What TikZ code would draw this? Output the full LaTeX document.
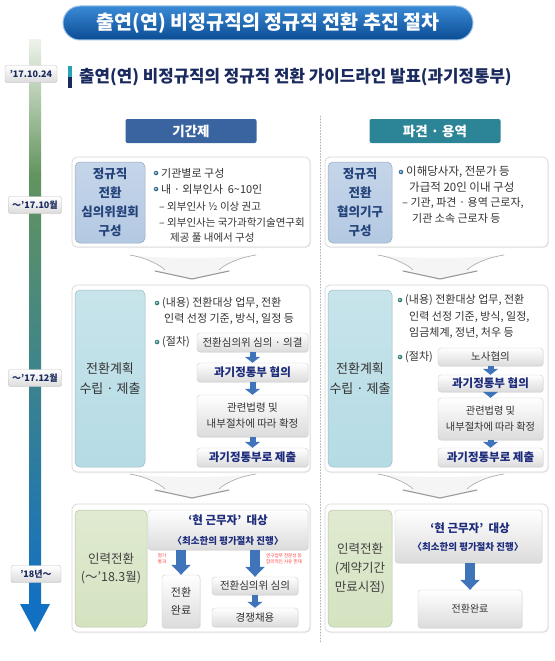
\documentclass[tikz,border=0pt]{standalone}
\usepackage{fontspec}
\setmainfont{Noto Sans CJK KR}
\usepackage{tikz}
\usetikzlibrary{arrows.meta,shadows}

\definecolor{titletop}{HTML}{3A8AD6}
\definecolor{titlebot}{HTML}{0A4C93}
\definecolor{titleedge}{HTML}{9CC2E8}
\definecolor{navy}{HTML}{1B2A5E}
\definecolor{markteal}{HTML}{27A3B3}
\definecolor{hdrblue}{HTML}{3A64A0}
\definecolor{hdrteal}{HTML}{2C8497}
\definecolor{lblblue}{HTML}{B3C8E2}
\definecolor{lblcyan}{HTML}{B5DBE4}
\definecolor{lblgreen}{HTML}{D5E3C1}
\definecolor{lbltext}{HTML}{24427A}
\definecolor{arrblue}{HTML}{3F74BA}
\definecolor{stepnavy}{HTML}{1E2C7C}
\definecolor{bulblue}{HTML}{3C8FC8}
\definecolor{bulteal}{HTML}{3BA89C}
\definecolor{lineA}{HTML}{EEF2EA}
\definecolor{lineB}{HTML}{62945E}
\definecolor{lineC}{HTML}{2A87A0}
\definecolor{lineD}{HTML}{1270C2}

\begin{document}
\begin{tikzpicture}[x=1pt, y=-1pt, line cap=round,
	every node/.style={inner sep=0pt, font=\fontsize{10}{12}\selectfont, text=black!80},
	titlepill/.style={minimum width=410pt, minimum height=34pt, rounded corners=17pt, top color=titletop, bottom color=titlebot, draw=titleedge, line width=1pt, text=white, font=\fontsize{19.5}{21}\selectfont\bfseries},
	datebox/.style={draw=black!25, rounded corners=2pt, top color=white, bottom color=black!14, minimum width=53pt, minimum height=17pt, text=navy, font=\fontsize{9}{10}\selectfont\bfseries},
	hdr/.style={rounded corners=2pt, minimum width=131pt, minimum height=24pt, text=white, font=\fontsize{13.5}{15}\selectfont\bfseries},
	outerbox/.style={draw=black!16, fill=white, rounded corners=5pt, line width=0.7pt, drop shadow={opacity=0.12, shadow xshift=1pt, shadow yshift=-1pt}},
	lblbox/.style={draw=#1!85!black, top color=#1!75, bottom color=#1, rounded corners=5pt, align=center, line width=0.5pt},
	stepbox/.style={draw=black!20, rounded corners=3pt, top color=white, bottom color=black!14, align=center, font=\fontsize{10.5}{13}\selectfont, drop shadow={opacity=0.12, shadow xshift=0.8pt, shadow yshift=-0.8pt}},
	stepbold/.style={text=stepnavy, font=\fontsize{11.5}{13}\selectfont\bfseries},
	bul/.style={circle, minimum size=4.5pt, ball color=#1},
	item/.style={anchor=west, font=\fontsize{11}{12}\selectfont},
	bluearr/.style={line cap=butt, draw=arrblue, line width=6pt, -{Triangle[width=15pt,length=6pt]}},
	bigarr/.style={line cap=butt, draw=arrblue, line width=10pt, -{Triangle[width=19pt,length=10pt]}},
	redtxt/.style={align=center, text=red!75, font=\fontsize{4.6}{5.6}\selectfont}]
	\useasboundingbox (0,0) rectangle (554,661);

	% title
	\node[titlepill] (title) at (268,23) {출연(연) 비정규직의 정규직 전환 추진 절차};

	% time line
	\shade[top color=lineA, bottom color=lineB] (29,40) rectangle (41,175);
	\shade[top color=lineB, middle color=lineC, bottom color=lineD] (29,175) rectangle (41,606);
	\fill[lineD] (20,604) -- (50,604) -- (35,632) -- cycle;

	% guideline
	\node[datebox, minimum width=52pt] (d0) at (31,74) {’17.10.24};
	\fill[markteal] (68,66) rectangle (72,77);
	\fill[navy] (68,77) rectangle (72,88);
	\node[anchor=west, text=navy, font=\fontsize{16.8}{18}\selectfont\bfseries] (guide) at (79,77) {출연(연) 비정규직의 정규직 전환 가이드라인 발표(과기정통부)};

	% column heads
	\node[hdr, fill=hdrblue] (hA) at (191,131) {기간제};
	\node[hdr, fill=hdrteal] (hB) at (435,131) {파견 · 용역};
	\draw[black!30, dotted, line width=0.9pt] (320,116) -- (320,642);

	% chevrons
	\foreach \cx/\ty in {192/255, 440/255, 192/474, 440/474} {
		\fill[black!4] (\cx-62,\ty) .. controls (\cx-45,\ty+3) and (\cx-32,\ty+10) .. (\cx-27,\ty+15)
			-- (\cx-37,\ty+16) -- (\cx,\ty+24) -- (\cx+37,\ty+16) -- (\cx+27,\ty+15)
			.. controls (\cx+32,\ty+10) and (\cx+45,\ty+3) .. (\cx+64,\ty)
			.. controls (\cx+30,\ty+4) and (\cx-30,\ty+4) .. cycle;
		\draw[black!35, line width=0.6pt] (\cx-62,\ty) .. controls (\cx-45,\ty+3) and (\cx-32,\ty+10) .. (\cx-27,\ty+15);
		\draw[black!35, line width=0.6pt] (\cx+64,\ty) .. controls (\cx+45,\ty+3) and (\cx+32,\ty+10) .. (\cx+27,\ty+15);
		\draw[black!40, line width=1.1pt] (\cx-37,\ty+16) -- (\cx,\ty+24) -- (\cx+37,\ty+16);
	}

	% outer boxes
	\node[outerbox, minimum width=238pt, minimum height=90pt] (oA1) at (191,202) {};
	\node[outerbox, minimum width=223pt, minimum height=90pt] (oB1) at (436.5,202) {};
	\node[outerbox, minimum width=238pt, minimum height=187pt] (oA2) at (191,378.5) {};
	\node[outerbox, minimum width=223pt, minimum height=187pt] (oB2) at (436.5,378.5) {};
	\node[outerbox, minimum width=238pt, minimum height=128pt] (oA3) at (191,568) {};
	\node[outerbox, minimum width=223pt, minimum height=128pt] (oB3) at (436.5,568) {};

	% dates
	\node[datebox] (d1) at (35,205) {～’17.10월};
	\node[datebox] (d2) at (35,378) {～’17.12월};
	\node[datebox, minimum width=50pt] (d3) at (36,574) {’18년～};

	% step 1
	\node[lblbox=lblblue, minimum width=70pt, minimum height=81pt, text=lbltext, font=\fontsize{12.5}{19}\selectfont\bfseries] (lA1) at (110,202.5) {정규직\\전환\\심의위원회\\구성};
	\node[bul=bulblue] (bA1) at (156,173) {};
	\node[item] (tA1) at (161,173) {기관별로 구성};
	\node[bul=bulblue] (bA2) at (156,189) {};
	\node[item] (tA2) at (161,189) {내 · 외부인사\ \ 6\textasciitilde10인};
	\node[item, font=\fontsize{10.5}{12}\selectfont] (tA3) at (159,207) {– 외부인사 ½ 이상 권고};
	\node[item, font=\fontsize{10.5}{12}\selectfont] (tA4) at (159,223) {– 외부인사는 국가과학기술연구회};
	\node[item, font=\fontsize{10.5}{12}\selectfont] (tA5) at (170,238) {제공 풀 내에서 구성};

	\node[lblbox=lblblue, minimum width=64pt, minimum height=81pt, text=lbltext, font=\fontsize{12.5}{19}\selectfont\bfseries] (lB1) at (360,202.5) {정규직\\전환\\협의기구\\구성};
	\node[bul=bulblue] (bB1) at (401,172) {};
	\node[item, font=\fontsize{11.5}{12}\selectfont] (tB1) at (406,172) {이해당사자,\ 전문가\ 등};
	\node[item, font=\fontsize{11.5}{12}\selectfont] (tB2) at (409,187) {가급적\ 20인\ 이내\ 구성};
	\node[item] (tB3) at (402,203) {– 기관,\ 파견 · 용역 근로자,};
	\node[item] (tB4) at (412,218) {기관 소속 근로자 등};

	% step 2
	\node[lblbox=lblcyan, minimum width=70pt, minimum height=177pt, font=\fontsize{13}{20}\selectfont] (lA2) at (110,378.5) {전환계획\\수립 · 제출};
	\node[bul=bulteal] (bA3) at (157,303) {};
	\node[item] (tA6) at (162,303) {(내용) 전환대상 업무, 전환};
	\node[item] (tA7) at (164,319) {인력 선정 기준, 방식, 일정 등};
	\node[bul=bulteal] (bA4) at (157,342) {};
	\node[item] (tA8) at (162,342) {(절차)};
	\node[stepbox, minimum width=111pt, minimum height=19pt] (sA1) at (252.5,342.5) {전환심의위 심의 · 의결};
	\node[stepbox, stepbold, minimum width=111pt, minimum height=19pt] (sA2) at (252.5,372.5) {과기정통부 협의};
	\node[stepbox, minimum width=111pt, minimum height=42pt, font=\fontsize{10.5}{16}\selectfont] (sA3) at (252.5,416) {관련법령 및\\내부절차에 따라 확정};
	\node[stepbox, stepbold, minimum width=111pt, minimum height=19pt] (sA4) at (252.5,457.5) {과기정통부로 제출};
	\draw[bluearr] (sA1) -- (sA2);
	\draw[bluearr] (sA2) -- (sA3);
	\draw[bluearr] (sA3) -- (sA4);

	\node[lblbox=lblcyan, minimum width=64pt, minimum height=177pt, font=\fontsize{13}{20}\selectfont] (lB2) at (360,378.5) {전환계획\\수립 · 제출};
	\node[bul=bulteal] (bB2) at (400,300) {};
	\node[item] (tB5) at (405,300) {(내용) 전환대상 업무, 전환};
	\node[item] (tB6) at (409,317) {인력 선정 기준, 방식, 일정,};
	\node[item] (tB7) at (409,333) {임금체계, 정년, 처우 등};
	\node[bul=bulteal] (bB3) at (400,357) {};
	\node[item] (tB8) at (405,357) {(절차)};
	\node[stepbox, minimum width=105pt, minimum height=18pt] (sB1) at (490.5,357) {노사협의};
	\node[stepbox, stepbold, minimum width=105pt, minimum height=17pt] (sB2) at (490.5,383.5) {과기정통부 협의};
	\node[stepbox, minimum width=105pt, minimum height=42pt, font=\fontsize{10.2}{16}\selectfont] (sB3) at (490.5,419) {관련법령 및\\내부절차에 따라 확정};
	\node[stepbox, stepbold, minimum width=105pt, minimum height=19pt] (sB4) at (490.5,457.5) {과기정통부로 제출};
	\draw[bluearr] (sB1) -- (sB2);
	\draw[bluearr] (sB2) -- (sB3);
	\draw[bluearr] (sB3) -- (sB4);

	% step 3
	\node[lblbox=lblgreen, minimum width=72pt, minimum height=117pt, font=\fontsize{12.5}{18}\selectfont, text=black!75] (lA3) at (111,568.5) {인력전환\\(～’18.3월)};
	\node[stepbox, minimum width=160pt, minimum height=40pt] (cA) at (228,530) {};
	\node[text=stepnavy, font=\fontsize{11.5}{13}\selectfont\bfseries] (cA1) at (228,520) {‘현 근무자’\ \ 대상};
	\node[text=stepnavy, font=\fontsize{9.5}{11}\selectfont\bfseries] (cA2) at (228,541) {〈최소한의 평가절차 진행〉};
	\node[stepbox, minimum width=38pt, minimum height=53pt, font=\fontsize{11}{18}\selectfont] (doneA) at (181,601.5) {전환\\완료};
	\node[stepbox, minimum width=86pt, minimum height=18pt, font=\fontsize{10.5}{12}\selectfont] (revA) at (255,586) {전환심의위\ 심의};
	\node[stepbox, minimum width=86pt, minimum height=19pt, font=\fontsize{10.5}{12}\selectfont] (hireA) at (255,617.5) {경쟁채용};
	\draw[bigarr] (doneA.north |- cA.south) -- (doneA.north);
	\draw[bigarr] (revA.north |- cA.south) -- (revA.north);
	\draw[bluearr] (revA) -- (hireA);
	\node[redtxt] (rA1) at (162,559) {평가\\통과};
	\node[redtxt] (rA2) at (284,559) {연구업무 전문성 등\\합리적인 사유 존재};

	\node[lblbox=lblgreen, minimum width=64pt, minimum height=117pt, font=\fontsize{12.5}{19}\selectfont, text=black!75] (lB3) at (360,568.5) {인력전환\\(계약기간\\만료시점)};
	\node[stepbox, minimum width=147pt, minimum height=53pt] (cB) at (468.5,536.5) {};
	\node[text=stepnavy, font=\fontsize{11.5}{13}\selectfont\bfseries] (cB1) at (470,528) {‘현 근무자’\ \ 대상};
	\node[text=stepnavy, font=\fontsize{9.5}{11}\selectfont\bfseries] (cB2) at (468,547) {〈최소한의 평가절차 진행〉};
	\node[stepbox, minimum width=104pt, minimum height=38pt, font=\fontsize{10}{12}\selectfont] (doneB) at (470,609) {전환완료};
	\draw[bigarr] (doneB.north |- cB.south) -- (doneB.north);
\end{tikzpicture}
\end{document}
